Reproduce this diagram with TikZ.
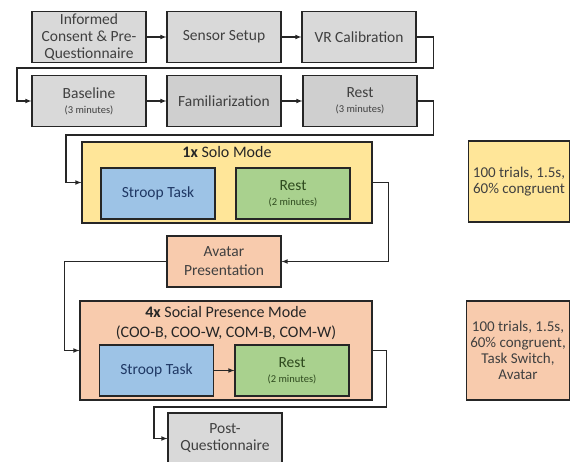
\documentclass[tikz,border=0pt]{standalone}
\usepackage{fontspec}
\setmainfont{Carlito}
\usetikzlibrary{arrows}
\definecolor{boxgray}{HTML}{D9D9D9}
\definecolor{boxgraydk}{HTML}{CFCFCF}
\definecolor{soloyellow}{HTML}{FFE699}
\definecolor{socialpeach}{HTML}{F8CBAD}
\definecolor{stroopblue}{HTML}{9DC3E6}
\definecolor{restgreen}{HTML}{A9D18E}
\definecolor{linegray}{HTML}{262626}
\definecolor{stroopink}{HTML}{1F3864}
\definecolor{restink}{HTML}{2E4A1E}
\tikzset{
	every node/.style={
		font=\fontsize{15.5}{17}\selectfont,
		text=black!75
	},
	stepbox/.style={
		shape=rectangle,
		minimum width=114pt,
		minimum height=51pt,
		inner sep=1pt,
		align=center,
		fill=boxgray,
		draw=linegray,
		line width=1.1pt
	},
	modebox/.style={
		shape=rectangle,
		minimum width=290pt,
		inner sep=0pt,
		draw=linegray,
		line width=1.1pt
	},
	modetitle/.style={
		anchor=north,
		align=center,
		text=black!85,
		font=\fontsize{16}{20}\selectfont
	},
	notebox/.style={
		shape=rectangle,
		minimum width=101pt,
		align=center,
		draw=linegray,
		line width=1.1pt,
		font=\fontsize{15}{16}\selectfont
	},
	flow/.style={->, >=latex, draw=linegray, line width=1.1pt},
}
\newcommand{\mins}[1]{\\[-2pt]{\fontsize{10.5}{11}\selectfont(#1 minutes)}}

\begin{document}
\begin{tikzpicture}[x=1pt,y=-1pt]
	\useasboundingbox (0,0) rectangle (579,462);
	
	% first two rows
	\node[stepbox] (consent) at (89,37) {Informed\\Consent \& Pre-\\Questionnaire};
	\node[stepbox] (sensor) at (224,37) {Sensor Setup};
	\node[stepbox] (vr) at (359,37) {VR Calibration};
	\node[stepbox] (baseline) at (89,101) {Baseline\mins{3}};
	\node[stepbox, fill=boxgraydk] (famil) at (224,101) {Familiarization};
	\node[stepbox, fill=boxgraydk] (rest) at (360,101) {Rest\mins{3}};
	
	% solo mode
	\node[modebox, fill=soloyellow, minimum height=81pt] (solo) at (227,182.5) {};
	\node[modetitle, yshift=-1pt] at (solo.north) {\textbf{1x} Solo Mode};
	\node[stepbox, fill=stroopblue, text=stroopink] (stroop1) at (158,193.5) {Stroop Task};
	\node[stepbox, fill=restgreen, text=restink] (rest1) at (293,193.5) {Rest\mins{2}};
	\node[notebox, fill=soloyellow, minimum height=81pt] (note1) at (519,181.5) {100 trials, 1.5s,\\60\% congruent};
	
	\node[stepbox, fill=socialpeach, font=\fontsize{15.5}{19}\selectfont] (avatar) at (224,261.5) {Avatar\\Presentation};
	
	% social presence mode
	\node[modebox, fill=socialpeach, minimum width=292pt, minimum height=99pt] (social) at (226,350.5) {};
	\node[modetitle, yshift=-2pt] at (social.north) {\textbf{4x} Social Presence Mode\\(COO-B, COO-W, COM-B, COM-W)};
	\node[stepbox, fill=stroopblue, text=stroopink] (stroop2) at (156.5,370.5) {Stroop Task};
	\node[stepbox, fill=restgreen, text=restink] (rest2) at (292,370.5) {Rest\mins{2}};
	\node[notebox, fill=socialpeach, minimum width=100pt, minimum height=99pt] (note2) at (518,350.5) {100 trials, 1.5s,\\60\% congruent,\\Task Switch,\\Avatar};
	
	\node[stepbox] (post) at (225,438.5) {Post-\\Questionnaire};
	
	\coordinate (t1) at (17,68);
	\coordinate (t2) at (66,135);
	\coordinate (t3) at (154,407);
	
	\draw[flow] (consent) -- (sensor);
	\draw[flow] (sensor) -- (vr);
	\draw[flow] (vr.east) -- ++(17,0) |- (t1) |- (baseline.west);
	\draw[flow] (baseline) -- (famil);
	\draw[flow] (famil) -- (rest);
	\draw[flow] (rest.east) -- ++(16,0) |- (t2) |- (solo.west);
	\draw[flow] (solo.east) -- ++(16,0) |- (avatar.east);
	\draw[flow] (avatar.west) -- ++(-102,0) |- (social.west);
	\draw[flow] (stroop2) -- (rest2);
	\draw[flow] (social.east) -- ++(14,0) |- (t3) |- (post.west);
\end{tikzpicture}
\end{document}
